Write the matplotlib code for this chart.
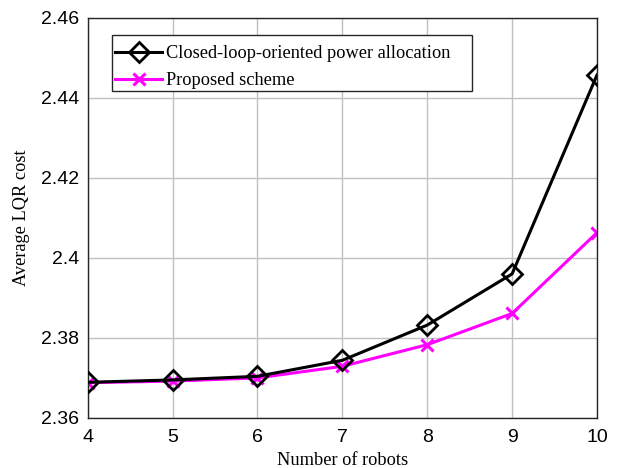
import numpy as np
import matplotlib.pyplot as plt
from matplotlib.patches import Rectangle

robots = [4, 5, 6, 7, 8, 9, 10]
closed_loop = [2.3689, 2.3695, 2.3704, 2.3744, 2.3832, 2.3960, 2.4457]
proposed = [2.3688, 2.3692, 2.3700, 2.3729, 2.3783, 2.3861, 2.4063]

xticks = [4, 5, 6, 7, 8, 9, 10]
yticks = [2.36, 2.38, 2.40, 2.42, 2.44, 2.46]
ytick_labels = ['2.36', '2.38', '2.4', '2.42', '2.44', '2.46']

serif = ['Liberation Serif', 'DejaVu Serif']
sans = ['Liberation Sans', 'DejaVu Sans']

fig = plt.figure(figsize=(6.18, 4.68), dpi=100)
ax = fig.add_axes([0.142, 0.107, 0.824, 0.855])

ax.plot(robots, closed_loop, color='black', lw=2.2, marker='D',
        ms=10, mfc='none', mec='black', mew=2,
        label='Closed-loop-oriented power allocation', zorder=3)
ax.plot(robots, proposed, color='#ff00ff', lw=2.2, marker='x',
        ms=9, mew=2.2, label='Proposed scheme', zorder=2)

ax.set_xlim(4, 10)
ax.set_ylim(2.36, 2.46)
ax.set_xticks(xticks)
ax.set_yticks(yticks)
ax.set_yticklabels(ytick_labels)
for lab in ax.get_xticklabels() + ax.get_yticklabels():
    lab.set_family(sans)
    lab.set_fontsize(14)
ax.tick_params(axis='x', direction='in', length=0, pad=8)
ax.tick_params(axis='y', direction='in', length=0, pad=6)

ax.grid(True, color='#c0c0c0', lw=1.0)
ax.set_axisbelow(True)
for s in ax.spines.values():
    s.set_linewidth(1.0)
    s.set_color('#262626')

ax.set_xlabel('Number of robots', family=serif, fontsize=13.2, labelpad=4)
ax.set_ylabel('Average LQR cost', family=serif, fontsize=13.2, labelpad=8)

# legend box is drawn separately so it can be wider than the entries
ax.add_patch(Rectangle((0.047, 0.8175), 0.707, 0.14, transform=ax.transAxes,
                       facecolor='white', edgecolor='#262626', lw=1.0,
                       zorder=4))
leg = ax.legend(loc='upper left', bbox_to_anchor=(0.053, 0.932),
                prop={'family': serif, 'size': 13.2}, frameon=False,
                handlelength=2.6, handletextpad=0.22, borderpad=0,
                labelspacing=0.55, borderaxespad=0)
leg.set_zorder(5)

fig.savefig('out.png', dpi=100)
